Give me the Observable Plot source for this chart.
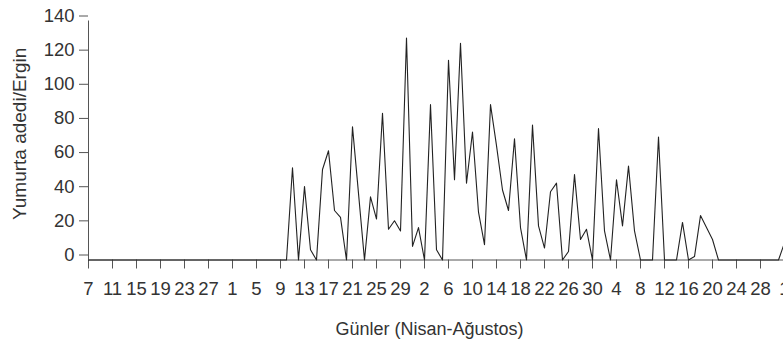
<!DOCTYPE html>
<html>
<head>
<meta charset="utf-8">
<script src="https://cdn.jsdelivr.net/npm/d3@7"></script>
<script src="https://cdn.jsdelivr.net/npm/@observablehq/plot@0.6"></script>
<style>
  html, body { margin: 0; padding: 0; background: #fff; }
</style>
</head>
<body>
<div id="chart"></div>
<script>
// Daily egg counts per female, 7 April (day 0) to 1 August (day 116)
const eggCounts = [
  0,0,0,0,0,0,0,0,0,0,           // Apr 7-16
  0,0,0,0,0,0,0,0,0,0,           // Apr 17-26
  0,0,0,0,0,0,0,0,0,0,           // Apr 27 - May 6
  0,0,0,0,54,0,43,6,0,53,        // May 7-16
  64,29,25,0,78,39,0,37,24,86,   // May 17-26
  18,23,17,130,8,19,0,91,6,0,    // May 27 - Jun 5
  117,47,127,45,75,28,9,91,67,41,// Jun 6-15
  29,71,19,0,79,20,7,40,45,0,    // Jun 16-25
  5,50,12,18,0,77,17,0,47,20,    // Jun 26 - Jul 5
  55,17,0,0,0,72,0,0,0,22,       // Jul 6-15
  0,2,26,19,12,0,0,0,0,0,        // Jul 16-25
  0,0,0,0,0,0,10                 // Jul 26 - Aug 1
];

// x tick labels, every 4 days from 7 April
const tickLabels = ["7","11","15","19","23","27","1","5","9","13","17","21","25","29",
                    "2","6","10","14","18","22","26","30","4","8","12","16","20","24","28","1"];
const tickStep = 4;
const yTicks = [0, 20, 40, 60, 80, 100, 120, 140];

const xTitle = "Günler (Nisan-Ağustos)";
const yTitle = "Yumurta adedi/Ergin";

const tickDays = tickLabels.map((_, i) => i * tickStep);
const data = eggCounts.map((v, i) => ({day: i, eggs: v}));

const chart = Plot.plot({
  width: 783,
  height: 340,
  marginLeft: 88,
  marginRight: 0,
  marginTop: 20.5,
  marginBottom: 80.5,
  style: {
    fontFamily: "'Liberation Sans', Arial, sans-serif",
    fontSize: "18px",
    color: "#333",
    background: "#fff"
  },
  x: {domain: [0, 116], range: [88, 784]},
  y: {domain: [0, 140]},
  marks: [
    Plot.axisX({
      ticks: tickDays,
      tickFormat: (d, i) => tickLabels[i],
      tickSize: 9,
      tickPadding: 13,
      fontSize: 18.5,
      stroke: "#555",
      label: null
    }),
    Plot.axisY({
      ticks: yTicks,
      tickSize: 9,
      tickPadding: 5,
      fontSize: 18.5,
      dy: -5,
      stroke: "#555",
      label: null
    }),
    Plot.ruleX([0], {stroke: "#555"}),
    Plot.ruleY([0], {stroke: "#555"}),
    Plot.lineY(data, {x: "day", y: "eggs", stroke: "#222", strokeWidth: 1.1}),
    Plot.text([xTitle], {
      frameAnchor: "bottom", dx: -6.5, dy: 75, lineAnchor: "bottom",
      textAnchor: "middle", fontSize: 18, fill: "#333"
    }),
    Plot.text([yTitle], {
      frameAnchor: "left", rotate: -90, dx: -68.5, dy: -6.7, lineAnchor: "middle",
      textAnchor: "middle", fontSize: 19, fill: "#333"
    })
  ]
});
document.getElementById("chart").appendChild(chart);
</script>
</body>
</html>
